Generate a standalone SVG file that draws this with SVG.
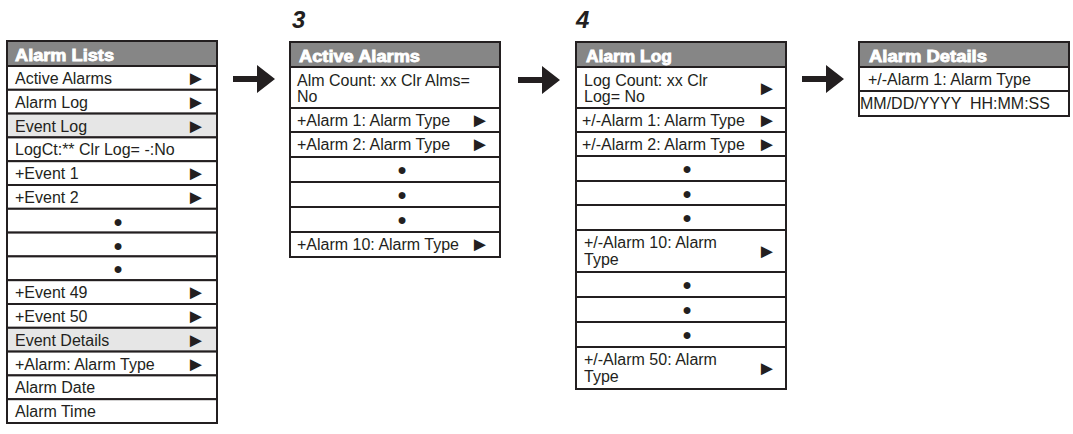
<svg xmlns="http://www.w3.org/2000/svg" width="1073" height="434" viewBox="0 0 1073 434">
<style>
.box{fill:#fff;stroke:#231f20;stroke-width:2}
.hl{fill:#e6e6e6;stroke:#231f20;stroke-width:2}
.hd{fill:#868686;stroke:#231f20;stroke-width:2}
.t{font-family:"Liberation Sans",Arial,sans-serif;font-size:16px;fill:#231f20}
.h{font-family:"Liberation Sans",Arial,sans-serif;font-size:16px;font-weight:bold;fill:#fff;stroke:#fff;stroke-width:0.8}
.g{font-family:"Liberation Sans",Arial,sans-serif;font-size:16px;fill:#231f20;text-anchor:middle}
.p{font-family:"Liberation Sans",Arial,sans-serif;font-size:20px;fill:#231f20;text-anchor:middle}
.n{font-family:"Liberation Sans",Arial,sans-serif;font-size:24px;font-weight:bold;font-style:italic;fill:#231f20}
.ar{fill:#231f20}
</style>
<text class="n" x="292" y="28">3</text>
<text class="n" x="576" y="28">4</text>
<g id="alarm-lists">
<rect class="hd" x="7" y="41" width="210" height="25"/>
<text class="h" x="15" y="61" textLength="99" lengthAdjust="spacingAndGlyphs">Alarm Lists</text>
<rect class="box" x="7" y="66" width="210" height="23.8"/><text class="t" x="15" y="84">Active Alarms</text><text class="p" x="196" y="85">►</text>
<rect class="box" x="7" y="89.8" width="210" height="23.8"/><text class="t" x="15" y="107.8">Alarm Log</text><text class="p" x="196" y="108.8">►</text>
<rect class="hl" x="7" y="113.6" width="210" height="23.8"/><text class="t" x="15" y="131.6">Event Log</text><text class="p" x="196" y="132.6">►</text>
<rect class="box" x="7" y="137.4" width="210" height="23.8"/><text class="t" x="15" y="155.4">LogCt:** Clr Log= -:No</text>
<rect class="box" x="7" y="161.2" width="210" height="23.8"/><text class="t" x="15" y="179.2">+Event 1</text><text class="p" x="196" y="180.2">►</text>
<rect class="box" x="7" y="185" width="210" height="23.8"/><text class="t" x="15" y="203">+Event 2</text><text class="p" x="196" y="204">►</text>
<rect class="box" x="7" y="208.8" width="210" height="23.8"/><text class="g" x="118" y="226.8">●</text>
<rect class="box" x="7" y="232.6" width="210" height="23.8"/><text class="g" x="118" y="250.6">●</text>
<rect class="box" x="7" y="256.4" width="210" height="23.8"/><text class="g" x="118" y="274.4">●</text>
<rect class="box" x="7" y="280.2" width="210" height="23.8"/><text class="t" x="15" y="298.2">+Event 49</text><text class="p" x="196" y="299.2">►</text>
<rect class="box" x="7" y="304" width="210" height="23.8"/><text class="t" x="15" y="322">+Event 50</text><text class="p" x="196" y="323">►</text>
<rect class="hl" x="7" y="327.8" width="210" height="23.8"/><text class="t" x="15" y="345.8">Event Details</text><text class="p" x="196" y="346.8">►</text>
<rect class="box" x="7" y="351.6" width="210" height="23.8"/><text class="t" x="15" y="369.6">+Alarm: Alarm Type</text><text class="p" x="196" y="370.6">►</text>
<rect class="box" x="7" y="375.4" width="210" height="23.8"/><text class="t" x="15" y="393.4">Alarm Date</text>
<rect class="box" x="7" y="399.2" width="210" height="23.8"/><text class="t" x="15" y="417.2">Alarm Time</text>
</g>
<g id="active-alarms">
<rect class="hd" x="290" y="42" width="210" height="25"/>
<text class="h" x="299" y="62" textLength="121" lengthAdjust="spacingAndGlyphs">Active Alarms</text>
<rect class="box" x="290" y="67" width="210" height="41"/><text class="t" x="297" y="86">Alm Count: xx Clr Alms=</text><text class="t" x="297" y="102">No</text>
<rect class="box" x="290" y="108" width="210" height="24"/><text class="t" x="297" y="126">+Alarm 1: Alarm Type</text><text class="p" x="480" y="127">►</text>
<rect class="box" x="290" y="132" width="210" height="25"/><text class="t" x="297" y="150">+Alarm 2: Alarm Type</text><text class="p" x="480" y="151">►</text>
<rect class="box" x="290" y="157" width="210" height="25"/><text class="g" x="402" y="175">●</text>
<rect class="box" x="290" y="182" width="210" height="25"/><text class="g" x="402" y="200">●</text>
<rect class="box" x="290" y="207" width="210" height="25"/><text class="g" x="402" y="225">●</text>
<rect class="box" x="290" y="232" width="210" height="25"/><text class="t" x="297" y="250">+Alarm 10: Alarm Type</text><text class="p" x="480" y="251">►</text>
</g>
<g id="alarm-log">
<rect class="hd" x="576" y="42" width="210" height="25"/>
<text class="h" x="586" y="62" textLength="86" lengthAdjust="spacingAndGlyphs">Alarm Log</text>
<rect class="box" x="576" y="67" width="210" height="41"/><text class="t" x="584" y="86">Log Count: xx Clr</text><text class="t" x="584" y="102">Log= No</text><text class="p" x="767" y="95">►</text>
<rect class="box" x="576" y="108" width="210" height="24"/><text class="t" x="582" y="126">+/-Alarm 1: Alarm Type</text><text class="p" x="767" y="127">►</text>
<rect class="box" x="576" y="132" width="210" height="24"/><text class="t" x="582" y="150">+/-Alarm 2: Alarm Type</text><text class="p" x="767" y="151">►</text>
<rect class="box" x="576" y="156" width="210" height="25"/><text class="g" x="687" y="174">●</text>
<rect class="box" x="576" y="181" width="210" height="24"/><text class="g" x="687" y="199">●</text>
<rect class="box" x="576" y="205" width="210" height="25"/><text class="g" x="687" y="223">●</text>
<rect class="box" x="576" y="230" width="210" height="42"/><text class="t" x="584" y="248">+/-Alarm 10: Alarm</text><text class="t" x="584" y="265">Type</text><text class="p" x="767" y="258">►</text>
<rect class="box" x="576" y="272" width="210" height="25"/><text class="g" x="687" y="290">●</text>
<rect class="box" x="576" y="297" width="210" height="25"/><text class="g" x="687" y="315">●</text>
<rect class="box" x="576" y="322" width="210" height="25"/><text class="g" x="687" y="340">●</text>
<rect class="box" x="576" y="347" width="210" height="42"/><text class="t" x="584" y="365">+/-Alarm 50: Alarm</text><text class="t" x="584" y="382">Type</text><text class="p" x="767" y="375">►</text>
</g>
<g id="alarm-details">
<rect class="hd" x="859" y="42" width="210" height="25"/>
<text class="h" x="869" y="62" textLength="118" lengthAdjust="spacingAndGlyphs">Alarm Details</text>
<rect class="box" x="859" y="67" width="210" height="24"/><text class="t" x="868" y="85">+/-Alarm 1: Alarm Type</text>
<rect class="box" x="859" y="91" width="210" height="25"/><text class="t" x="860" y="109" xml:space="preserve">MM/DD/YYYY  HH:MM:SS</text>
</g>
<g id="connectors">
<polygon class="ar" points="233,76 257,76 257,65 275,79 257,93 257,82 233,82"/>
<polygon class="ar" points="518,77 542,77 542,66 560,80 542,94 542,83 518,83"/>
<polygon class="ar" points="802,76 826,76 826,65 844,79 826,93 826,82 802,82"/>
</g>
</svg>
